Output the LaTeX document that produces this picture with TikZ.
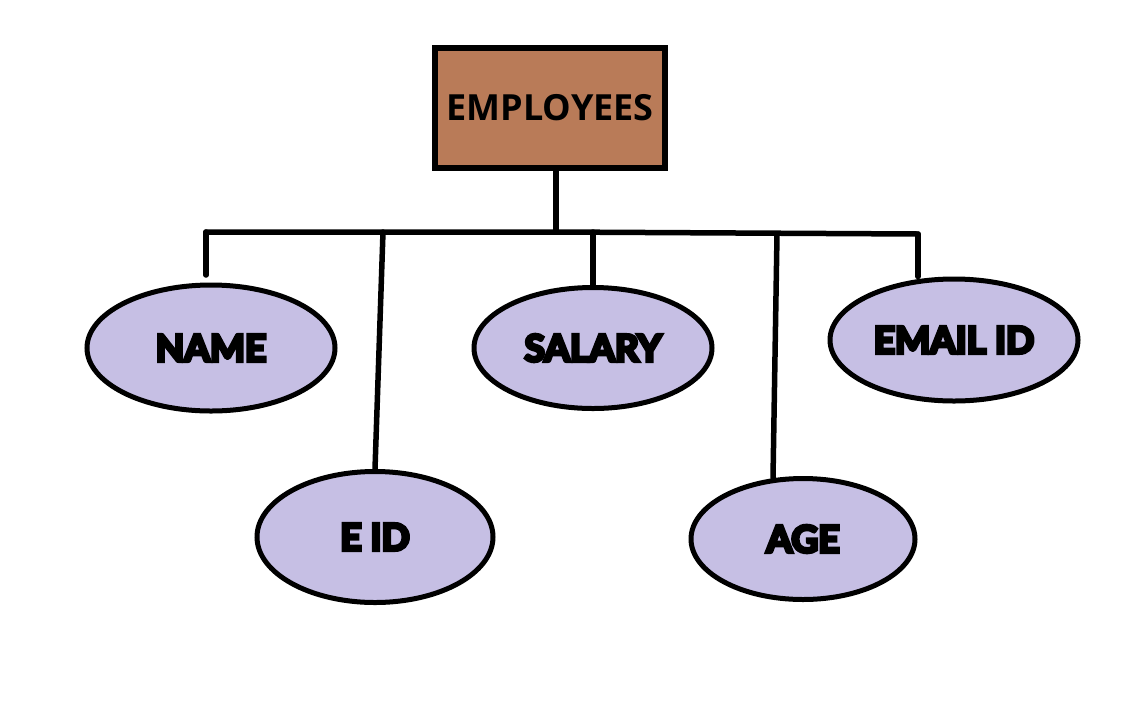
\documentclass[tikz,border=0pt]{standalone}
\usepackage{fontspec}
\setmainfont{Open Sans}
\newfontfamily\labfont{Lato Bold}[RawFeature={embolden=9}]
\usetikzlibrary{shapes.geometric}
\definecolor{boxfill}{HTML}{B97B58}
\definecolor{ellfill}{HTML}{C6BFE4}
\tikzset{
  ent/.style={draw=black, line width=5.5pt, fill=boxfill, minimum width=230pt, minimum height=120pt, inner sep=0pt, font=\fontsize{36}{40}\selectfont\bfseries},
  attr/.style={ellipse, draw=black, line width=5pt, fill=ellfill, inner sep=0pt, font=\fontsize{37}{40}\labfont},
  conn/.style={line width=5.5pt, line cap=round}
}
\begin{document}
\begin{tikzpicture}[x=1pt,y=-1pt]
\useasboundingbox (0,0) rectangle (1144,716);
\node[ent] (emp) at (550,108) {EMPLOYEES};
\node[attr, minimum width=248pt, minimum height=126pt] (name) at (211,348) {NAME};
\node[attr, minimum width=236pt, minimum height=131pt] (eid) at (375,537) {E ID};
\node[attr, minimum width=238pt, minimum height=121pt] (sal) at (593,348) {SALARY};
\node[attr, minimum width=224pt, minimum height=121pt] (age) at (803,539) {AGE};
\node[attr, minimum width=248pt, minimum height=122pt] (mail) at (954,340) {EMAIL ID};
\coordinate (j) at (556,232);
\coordinate (bl) at (206,232);
\coordinate (br) at (918,234);
\coordinate (nameend) at (206,275);
\coordinate (eidtop) at (383,232);
\coordinate (agetop) at (777,235);
\coordinate (ageend) at (773,478);
\coordinate (mailtop) at (918,234);
\coordinate (saltop) at (593,232);
\draw[conn] (emp.south -| j) -- (j);
\draw[conn] (bl) -- (j) -- (br);
\draw[conn] (bl) -- (nameend);
\draw[conn] (eidtop) -- (eid.north);
\draw[conn] (saltop) -- (sal.north);
\draw[conn] (agetop) -- (ageend);
\draw[conn] (mailtop) -- (mail.north -| mailtop);
\end{tikzpicture}
\end{document}
